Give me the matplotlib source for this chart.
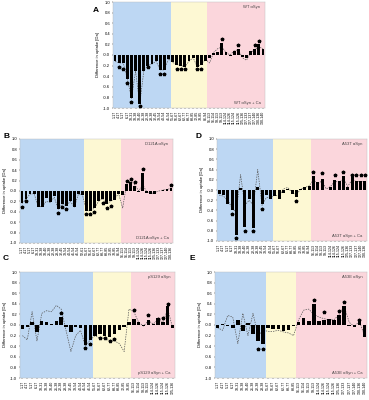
import numpy as np
import matplotlib
matplotlib.use("Agg")
import matplotlib.pyplot as plt

plt.rcParams['font.family'] = ['Liberation Sans', 'DejaVu Sans']

# peptide names per domain (N-terminus, NAC, C-terminus)
blue_pep = ["1-17", "4-17", "5-17", "6-17", "18-31", "18-38", "18-40", "21-38", "22-38", "28-38",
            "32-45", "39-54", "40-54", "41-54", "46-54", "52-61", "55-61"]
yellow_pep = ["55-67", "56-67", "62-67", "62-77", "68-77", "68-85", "72-85", "78-85", "86-94", "86-95", "89-95"]
pink_pep = ["96-113", "96-114", "98-113", "99-113", "114-124", "114-126", "115-124", "115-126",
            "125-136", "127-133", "127-137", "127-140", "130-136", "130-140", "131-140", "137-140"]

N = np.nan

# A: WT
a_split = (14, 9, 14)
a_vals = [-0.12, -0.15, -0.15, -0.45, -0.82, -0.30, -0.93, -0.30, -0.20, -0.17, -0.12, -0.28, -0.28, -0.07,
          -0.14, -0.18, -0.20, -0.22, -0.12, -0.05, -0.22, -0.18, -0.12,
          -0.05, 0.03, 0.05, 0.22, 0.05, -0.02, 0.08, 0.12, -0.03, -0.06, 0.08, 0.12, 0.20, 0.12]
a_star = [N, -0.23, -0.26, -0.53, -0.88, N, -0.97, N, -0.22, N, N, -0.35, -0.35, N,
          N, -0.26, -0.26, -0.26, N, N, -0.26, -0.26, N,
          N, N, N, 0.30, N, N, N, 0.18, N, N, N, 0.18, 0.26, N]
a_ca = [-0.12, -0.15, -0.15, -0.45, -0.82, -0.30, -0.93, -0.30, -0.20, -0.17, -0.12, -0.28, -0.28, -0.07,
        -0.14, -0.18, -0.20, -0.22, -0.12, -0.05, -0.22, -0.18, -0.08,
        -0.15, 0.05, 0.12, 0.15, 0.05, 0.0, 0.08, 0.10, -0.05, -0.10, 0.05, 0.10, 0.15, 0.12]

# B: D121A
b_split = (16, 9, 13)
b_vals = [-0.24, -0.15, -0.06, -0.05, -0.30, -0.30, -0.14, -0.22, -0.10, -0.35, -0.25, -0.28, -0.20, -0.31, -0.06, -0.07,
          -0.38, -0.38, -0.33, -0.20, -0.15, -0.25, -0.20, -0.17, -0.05,
          -0.07, 0.13, 0.17, 0.10, -0.02, 0.35, -0.03, -0.05, -0.06, 0.0, 0.02, 0.03, 0.05]
b_star = [-0.31, -0.20, N, N, N, N, N, N, N, -0.43, -0.31, -0.34, N, N, N, N,
          -0.45, -0.45, -0.40, N, -0.24, -0.32, -0.28, N, N,
          N, 0.20, 0.24, 0.18, N, 0.42, N, N, N, N, N, N, 0.12]
b_ca = [-0.24, -0.15, -0.06, -0.05, -0.30, -0.30, -0.20, -0.22, -0.12, -0.35, -0.25, -0.28, -0.20, -0.31, -0.06, -0.07,
        -0.38, -0.38, -0.33, -0.20, -0.15, -0.25, -0.20, -0.15, -0.05,
        -0.33, 0.15, 0.20, 0.12, 0.0, 0.12, -0.02, -0.05, -0.03, 0.0, 0.02, 0.03, 0.05]

# C: pS129
c_split = (15, 8, 9)
c_vals = [-0.08, -0.03, 0.05, -0.13, 0.08, 0.05, 0.02, 0.07, 0.15, -0.03, -0.13, -0.03, -0.06, -0.38, -0.28,
          -0.20, -0.17, -0.20, -0.22, -0.17, -0.10, -0.03, 0.05,
          0.12, 0.05, -0.02, 0.10, 0.02, 0.13, 0.05, 0.35, -0.05]
c_star = [N, N, N, N, N, N, N, N, 0.22, N, N, N, N, -0.44, -0.35,
          N, -0.25, -0.25, -0.30, -0.27, N, N, N,
          0.28, N, N, 0.18, N, 0.12, 0.13, 0.40, N]
c_ca = [-0.20, -0.28, 0.25, -0.30, 0.22, 0.27, 0.25, 0.37, 0.30, -0.10, -0.50, -0.20, -0.10, -0.40, -0.28,
        -0.20, -0.25, -0.25, -0.30, -0.30, -0.35, -0.50, 0.30,
        0.25, 0.05, -0.02, 0.08, 0.02, 0.10, 0.05, 0.30, -0.05]

# D: A53T
d_split = (13, 9, 13)
d_vals = [-0.08, -0.10, -0.28, -0.40, -0.88, 0.04, -0.72, -0.18, -0.75, 0.06, -0.28, -0.10, -0.18,
          -0.12, -0.17, -0.05, 0.02, -0.08, -0.13, 0.02, 0.05, 0.07,
          0.27, 0.15, 0.22, 0.0, 0.05, 0.20, 0.17, 0.28, 0.05, 0.25, 0.18, 0.18, 0.17]
d_star = [N, N, N, -0.48, -0.95, N, -0.80, N, -0.80, N, -0.37, N, N,
          N, N, N, N, N, -0.22, N, N, N,
          0.35, N, 0.33, N, N, 0.30, N, 0.35, N, 0.30, 0.30, 0.30, 0.30]
d_ca = [-0.10, -0.12, -0.20, -0.35, -0.45, 0.30, -0.30, -0.20, -0.30, 0.40, -0.30, -0.15, -0.15,
        -0.10, -0.12, 0.02, 0.05, -0.05, -0.10, 0.02, 0.05, 0.08,
        0.20, 0.12, 0.18, 0.02, 0.07, 0.17, 0.15, 0.22, 0.07, 0.20, 0.17, 0.17, 0.16]

# E: A53E
e_split = (10, 6, 14)
e_vals = [-0.05, 0.02, -0.02, -0.05, 0.10, -0.12, 0.03, -0.17, -0.30, -0.35,
          -0.05, -0.08, -0.07, -0.12, -0.10, -0.02,
          0.05, 0.13, 0.07, 0.40, 0.07, 0.10, 0.12, 0.10, 0.18, 0.35, -0.02, -0.03, 0.05, -0.22]
e_star = [N, N, N, N, N, N, N, N, -0.45, -0.45,
          N, N, N, N, N, N,
          N, N, N, 0.47, N, 0.25, N, N, 0.27, 0.43, N, N, 0.10, N]
e_ca = [-0.05, -0.10, 0.18, 0.15, -0.35, 0.22, -0.20, 0.22, -0.20, -0.10,
        -0.12, -0.12, -0.10, -0.13, -0.15, -0.20,
        0.10, 0.28, 0.30, 0.20, 0.15, 0.12, 0.10, 0.10, 0.20, 0.35, 0.05, -0.03, 0.07, -0.20]

panels = [
    ("A", "WT", a_split, a_vals, a_star, a_ca, [113, 2, 265, 108], (93, 10)),
    ("B", "D121A", b_split, b_vals, b_star, b_ca, [20, 139, 173, 243], (3, 137)),
    ("D", "A53T", d_split, d_vals, d_star, d_ca, [217, 139, 367, 241], (196, 137)),
    ("C", "pS129", c_split, c_vals, c_star, c_ca, [20, 272, 175, 378], (3, 258)),
    ("E", "A53E", e_split, e_vals, e_star, e_ca, [215, 272, 367, 378], (190, 258)),
]

W, H = 369, 400
fig = plt.figure(figsize=(W / 100, H / 100), dpi=100)

for letter, name, split, vals, star, ca, box, lpos in panels:
    l, t, r, b = box
    ax = fig.add_axes([l / W, 1 - b / H, (r - l) / W, (b - t) / H])
    nb, ny, npk = split
    labels = blue_pep[:nb] + yellow_pep[:ny] + pink_pep[:npk]
    x = np.arange(len(vals))
    ax.axvspan(-0.5, nb - 0.5, color="#bdd7f3", lw=0)
    ax.axvspan(nb - 0.5, nb + ny - 0.5, color="#fdf8d3", lw=0)
    ax.axvspan(nb + ny - 0.5, len(vals) - 0.5, color="#fbd6dc", lw=0)
    ax.plot(x, ca, ls=(0, (2, 1.5)), color="#555555", lw=0.5, zorder=2)
    ax.bar(x, vals, width=0.7, color="black", zorder=3)
    ax.plot(x, star, ls="none", marker="*", ms=2.5, color="black", zorder=4)
    ax.set_xlim(-0.5, len(vals) - 0.5)
    ax.set_ylim(-1.0, 1.0)
    ax.set_yticks(np.arange(-1.0, 1.01, 0.2))
    ax.set_yticklabels([f"{v:.1f}" for v in np.arange(-1.0, 1.01, 0.2)], fontsize=3)
    ax.set_xticks(x)
    ax.set_xticklabels(labels, rotation=90, fontsize=2.6)
    ax.tick_params(length=1, width=0.3, pad=1)
    ax.set_ylabel("Difference in uptake [Da]", fontsize=3, labelpad=2)
    for s in ax.spines.values():
        s.set_linewidth(0.3)
        s.set_color("#bbbbbb")
    ax.text(0.97, 0.97, f"{name} αSyn", transform=ax.transAxes, ha="right", va="top", fontsize=3, color="#444444")
    ax.text(0.97, 0.03, f"{name} αSyn + Ca", transform=ax.transAxes, ha="right", va="bottom", fontsize=3, color="#444444")
    fig.text(lpos[0] / W, 1 - lpos[1] / H, letter, fontsize=6, fontweight="bold", va="center")

fig.savefig("out.png", dpi=100)
